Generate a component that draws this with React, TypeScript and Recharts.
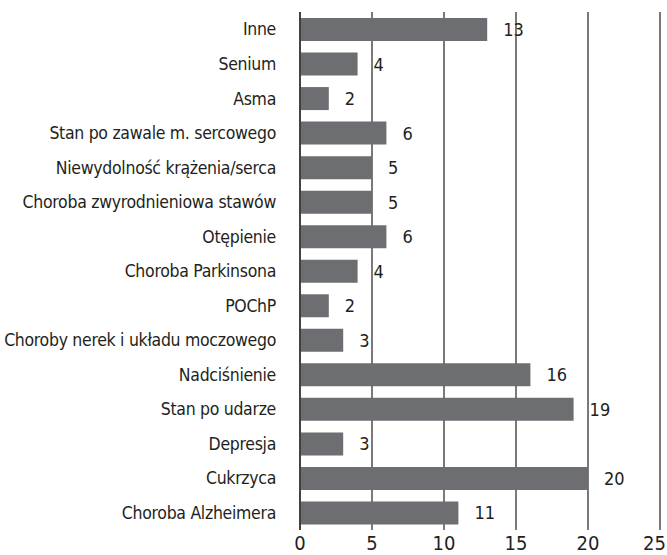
import { BarChart, Bar, XAxis, YAxis, CartesianGrid, LabelList } from 'recharts';

const categories = [
  'Inne',
  'Senium',
  'Asma',
  'Stan po zawale m. sercowego',
  'Niewydolność krążenia/serca',
  'Choroba zwyrodnieniowa stawów',
  'Otępienie',
  'Choroba Parkinsona',
  'POChP',
  'Choroby nerek i układu moczowego',
  'Nadciśnienie',
  'Stan po udarze',
  'Depresja',
  'Cukrzyca',
  'Choroba Alzheimera',
];

const counts = [13, 4, 2, 6, 5, 5, 6, 4, 2, 3, 16, 19, 3, 20, 11];

const xTicks = [0, 5, 10, 15, 20, 25];

const data = categories.map((name, i) => ({ name, value: counts[i] }));

const FONT = '"DejaVu Sans Condensed", "DejaVu Sans", sans-serif';
const INK = '#231f20';

// value label sits a bit to the right of the bar end
const ValueLabel = (props: any) => {
  const { x, y, width, height, value } = props;
  return (
    <text
      x={x + width + 16}
      y={y + height / 2}
      dy="0.36em"
      fill={INK}
      fontSize={18}
      fontFamily={FONT}
      textAnchor="start"
    >
      {value}
    </text>
  );
};

// last tick would run off the right edge, so anchor it at its end
const XTick = (props: any) => {
  const { x, y, payload } = props;
  const last = payload.value === xTicks[xTicks.length - 1];
  return (
    <text
      x={last ? x + 6 : x}
      y={y}
      dy="0.71em"
      fill={INK}
      fontSize={20}
      fontFamily={FONT}
      textAnchor={last ? 'end' : 'middle'}
    >
      {payload.value}
    </text>
  );
};

export default function App() {
  return (
    <div style={{ position: 'absolute', left: 0, top: 0, background: '#fff' }}>
      <BarChart
        width={667}
        height={555}
        data={data}
        layout="vertical"
        margin={{ top: 12, right: 7, bottom: 0, left: 0 }}
        barSize={23}
      >
        <CartesianGrid horizontal={false} stroke={INK} strokeWidth={1.2} />
        <XAxis
          type="number"
          domain={[0, 25]}
          ticks={xTicks}
          axisLine={false}
          tickLine={false}
          tickSize={0}
          tickMargin={6}
          height={25}
          interval={0}
          tick={<XTick />}
        />
        <YAxis
          type="category"
          dataKey="name"
          width={300}
          axisLine={{ stroke: INK, strokeWidth: 1.2 }}
          tickLine={false}
          tickSize={0}
          tickMargin={24}
          interval={0}
          tick={{ fill: INK, fontSize: 17.5, fontFamily: FONT, letterSpacing: -0.3 }}
        />
        <Bar dataKey="value" fill="#6d6e71" isAnimationActive={false}>
          <LabelList dataKey="value" content={ValueLabel} />
        </Bar>
      </BarChart>
    </div>
  );
}
